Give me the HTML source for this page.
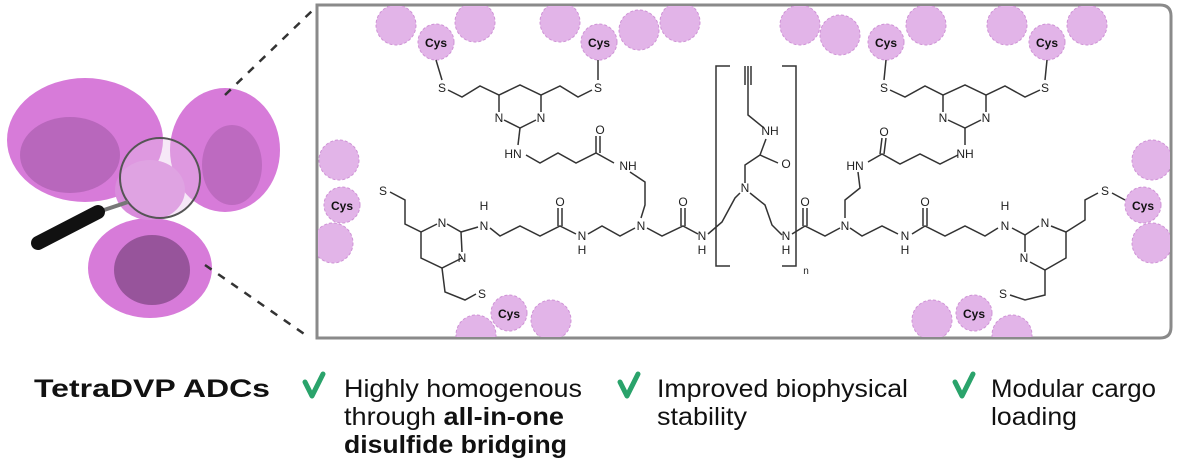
<!DOCTYPE html>
<html><head><meta charset="utf-8"><style>
body{margin:0;background:#fff;width:1177px;height:470px;overflow:hidden;font-family:"Liberation Sans",sans-serif}
svg{position:absolute;left:0;top:0}
</style></head><body>
<svg width="1177" height="470" viewBox="0 0 1177 470" xmlns="http://www.w3.org/2000/svg">
<g>
<ellipse cx="85" cy="140" rx="78" ry="62" fill="#d77bd9"/>
<ellipse cx="70" cy="155" rx="50" ry="38" fill="#a45aa8" opacity="0.6"/>
<ellipse cx="225" cy="150" rx="55" ry="62" fill="#d77bd9"/>
<ellipse cx="232" cy="165" rx="30" ry="40" fill="#a45aa8" opacity="0.5"/>
<ellipse cx="150" cy="268" rx="62" ry="50" fill="#d77bd9"/>
<ellipse cx="152" cy="270" rx="38" ry="35" fill="#6d3a72" opacity="0.6"/>
<ellipse cx="150" cy="190" rx="35" ry="30" fill="#d98cdc"/>
<circle cx="160" cy="178" r="40" fill="#e9c6ea" fill-opacity="0.4" stroke="#555" stroke-width="2"/>
<line x1="128" y1="202" x2="98" y2="212" stroke="#777" stroke-width="4"/>
<line x1="98" y1="212" x2="38" y2="243" stroke="#111" stroke-width="14" stroke-linecap="round"/>
</g>
<line x1="225" y1="95" x2="315" y2="8" stroke="#333" stroke-width="2.5" stroke-dasharray="8,8"/>
<line x1="205" y1="265" x2="310" y2="338" stroke="#333" stroke-width="2.5" stroke-dasharray="8,8"/>
<path d="M317,5 H1160 Q1171,5 1171,16 V327 Q1171,338 1160,338 H317 Z" fill="#fff" stroke="#8a8a8a" stroke-width="3"/>
<defs><clipPath id="bx"><rect x="318" y="6" width="852" height="331"/></clipPath></defs>
<g clip-path="url(#bx)" fill="#e2b4e8" stroke="#cf93d6" stroke-width="1" stroke-dasharray="3,2">
<circle cx="396" cy="25" r="20"/><circle cx="475" cy="22" r="20"/><circle cx="436" cy="42" r="18"/>
<circle cx="560" cy="22" r="20"/><circle cx="639" cy="30" r="20"/><circle cx="680" cy="22" r="20"/><circle cx="599" cy="42" r="18"/>
<circle cx="800" cy="25" r="20"/><circle cx="840" cy="35" r="20"/><circle cx="926" cy="25" r="20"/><circle cx="886" cy="42" r="18"/>
<circle cx="1007" cy="25" r="20"/><circle cx="1087" cy="25" r="20"/><circle cx="1047" cy="42" r="18"/>
<circle cx="339" cy="160" r="20"/><circle cx="333" cy="243" r="20"/><circle cx="342" cy="205" r="18"/>
<circle cx="1152" cy="160" r="20"/><circle cx="1152" cy="243" r="20"/><circle cx="1143" cy="205" r="18"/>
<circle cx="551" cy="320" r="20"/><circle cx="476" cy="335" r="20"/><circle cx="509" cy="313" r="18"/>
<circle cx="932" cy="320" r="20"/><circle cx="1012" cy="335" r="20"/><circle cx="974" cy="313" r="18"/>
</g>
<g font-family="Liberation Sans, sans-serif" font-size="12" font-weight="bold" text-anchor="middle" fill="#111">
<text x="436" y="47">Cys</text><text x="599" y="47">Cys</text><text x="886" y="47">Cys</text><text x="1047" y="47">Cys</text>
<text x="342" y="210">Cys</text><text x="1143" y="210">Cys</text><text x="509" y="318">Cys</text><text x="974" y="318">Cys</text>
</g>
<g fill="none" stroke="#333" stroke-width="1.5">
<polyline points="436,60 442,80"/><polyline points="598,60 598,80"/>
<polyline points="448,90 462,97 480,86 499,95 520,85 541,95 560,86 578,97 592,90"/>
<polyline points="499,95 499,112"/><polyline points="541,95 541,112"/>
<polyline points="504,120 520,128 536,120"/><polyline points="520,128 518,145"/>
<polyline points="526,155 540,163 558,153 576,163 596,153 614,163"/>
<polyline points="596,153 596,136"/><polyline points="600,153 600,136"/>
<polyline points="630,172 645,182 645,205 641,218"/>
<polyline points="390,192 405,200 405,224 421,232 421,258 442,268 462,258"/>
<polyline points="421,232 437,224"/><polyline points="447,224 461,232 462,252"/>
<polyline points="461,232 478,227"/>
<polyline points="442,268 445,292 465,300 476,294"/>
<polyline points="490,228 500,236 520,226 540,236 560,226 576,234"/>
<polyline points="558,226 558,208"/><polyline points="562,226 562,208"/>
<polyline points="588,234 602,226 620,236 635,228"/>
<polyline points="647,228 662,236 683,226 698,234"/>
<polyline points="681,226 681,208"/><polyline points="685,226 685,208"/>
<polyline points="708,234 722,222 735,198 740,193"/>
<polyline points="750,193 765,205 772,225 782,235"/>
<polyline points="745,183 745,165 760,155 778,163"/>
<polyline points="760,155 766,139"/>
<polyline points="764,128 748,115 748,85"/>
<polyline points="745,85 745,66"/><polyline points="748,85 748,66"/><polyline points="751,85 751,66"/>
<polyline points="792,234 805,226 825,236 840,228"/>
<polyline points="803,226 803,208"/><polyline points="807,226 807,208"/>
<polyline points="850,228 862,236 882,226 898,234"/>
<polyline points="912,234 925,226 945,236 965,226 985,236 998,228"/>
<polyline points="923,226 923,208"/><polyline points="927,226 927,208"/>
<polyline points="845,218 845,200 860,188 858,172"/>
<polyline points="868,162 882,154 900,164 920,154 940,164 958,155"/>
<polyline points="880,154 882,138"/><polyline points="884,154 886,138"/>
<polyline points="1012,228 1025,235 1025,252"/><polyline points="1025,235 1039,226"/>
<polyline points="1051,226 1066,232 1066,258 1045,270 1030,262"/>
<polyline points="1066,232 1085,220 1085,200 1098,193"/>
<polyline points="1112,193 1125,200"/>
<polyline points="1045,270 1045,295 1025,300 1010,295"/>
<polyline points="886,60 884,80"/><polyline points="1047,60 1045,80"/>
<polyline points="890,90 905,97 925,86 943,95 965,85 986,95 1005,86 1025,97 1040,90"/>
<polyline points="943,95 943,112"/><polyline points="986,95 986,112"/>
<polyline points="948,120 965,128 981,120"/><polyline points="965,128 965,145"/>
<polyline points="730,66 716,66 716,266 730,266"/>
<polyline points="782,66 796,66 796,266 782,266"/>
</g>
<g font-family="Liberation Sans, sans-serif" font-size="12" fill="#222" text-anchor="middle">
<text x="442" y="92">S</text><text x="598" y="92">S</text><text x="884" y="92">S</text><text x="1045" y="92">S</text>
<text x="499" y="122">N</text><text x="541" y="122">N</text><text x="943" y="122">N</text><text x="986" y="122">N</text>
<text x="513" y="158">HN</text><text x="600" y="134">O</text><text x="628" y="170">NH</text>
<text x="383" y="195">S</text><text x="442" y="227">N</text><text x="462" y="262">N</text><text x="482" y="298">S</text>
<text x="484" y="210">H</text><text x="484" y="230">N</text>
<text x="560" y="206">O</text><text x="582" y="240">N</text><text x="582" y="254">H</text>
<text x="641" y="230">N</text><text x="683" y="206">O</text><text x="702" y="240">N</text><text x="702" y="254">H</text>
<text x="745" y="192">N</text><text x="770" y="135">NH</text><text x="786" y="168">O</text>
<text x="786" y="240">N</text><text x="786" y="254">H</text><text x="806" y="274" font-size="10">n</text>
<text x="805" y="206">O</text><text x="845" y="230">N</text><text x="855" y="170">HN</text><text x="884" y="136">O</text>
<text x="905" y="240">N</text><text x="905" y="254">H</text><text x="925" y="206">O</text>
<text x="965" y="158">NH</text>
<text x="1005" y="210">H</text><text x="1005" y="230">N</text>
<text x="1045" y="227">N</text><text x="1024" y="262">N</text>
<text x="1105" y="195">S</text><text x="1003" y="298">S</text>
</g>
<g font-family="Liberation Sans, sans-serif" fill="#111" font-size="25">
<text x="34" y="397" font-weight="bold" textLength="236" lengthAdjust="spacingAndGlyphs">TetraDVP ADCs</text>
<text x="344" y="397" textLength="238" lengthAdjust="spacingAndGlyphs">Highly homogenous</text>
<text x="344" y="425" textLength="220" lengthAdjust="spacingAndGlyphs">through <tspan font-weight="bold">all-in-one</tspan></text>
<text x="344" y="453" font-weight="bold" textLength="223" lengthAdjust="spacingAndGlyphs">disulfide bridging</text>
<text x="657" y="397" textLength="251" lengthAdjust="spacingAndGlyphs">Improved biophysical</text>
<text x="657" y="425" textLength="90" lengthAdjust="spacingAndGlyphs">stability</text>
<text x="991" y="397" textLength="165" lengthAdjust="spacingAndGlyphs">Modular cargo</text>
<text x="991" y="425" textLength="86" lengthAdjust="spacingAndGlyphs">loading</text>
</g>
<g fill="none" stroke="#2aa36b" stroke-width="5" stroke-linecap="round" stroke-linejoin="round">
<polyline points="305,382 312,396 323,374"/>
<polyline points="620,382 627,396 638,374"/>
<polyline points="955,382 962,396 973,374"/>
</g>
</svg>
</body></html>
